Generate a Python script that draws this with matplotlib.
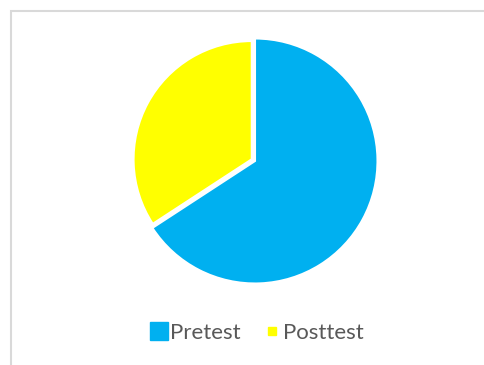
import matplotlib.pyplot as plt
from matplotlib.lines import Line2D
from matplotlib.patches import Rectangle

# data
categories = ['Pretest', 'Posttest']
shares = [65.8, 34.2]
colors = ['#00b0f0', '#ffff00']

plt.rcParams['font.family'] = ['Lato', 'DejaVu Sans']

fig = plt.figure(figsize=(4.84, 3.65), dpi=100)

# light chart-area frame (right and bottom edges are cropped off)
fig.patches.append(Rectangle((10.5 / 484, -0.05), 1.2, (365 - 10.5) / 365 + 0.05,
                             transform=fig.transFigure, fill=False,
                             edgecolor='#d9d9d9', linewidth=1.5))

ax = fig.add_axes([130 / 484, 79 / 365, 250 / 484, 250 / 365])
wedges, _ = ax.pie(shares, colors=colors, startangle=90, counterclock=False,
                   explode=[0, 0.03],
                   wedgeprops=dict(edgecolor='white', linewidth=1.5))
wedges[1].set_radius(0.965)
ax.set_xlim(-1.0204, 1.0204)
ax.set_ylim(-1.0204, 1.0204)
ax.set_aspect('equal')
ax.axis('off')

handles = [Line2D([], [], marker='s', linestyle='none', markersize=12.5,
                  markerfacecolor=colors[0], markeredgecolor=colors[0]),
           Line2D([], [], marker='s', linestyle='none', markersize=6,
                  markerfacecolor=colors[1], markeredgecolor=colors[1])]
leg = fig.legend(handles, categories, loc='center', bbox_to_anchor=(257 / 484, 0.088),
                 ncol=2, frameon=False, fontsize=16, handlelength=0.8,
                 handletextpad=0.1, columnspacing=1.0, labelcolor='#595959')

fig.savefig('out.png', dpi=100)
